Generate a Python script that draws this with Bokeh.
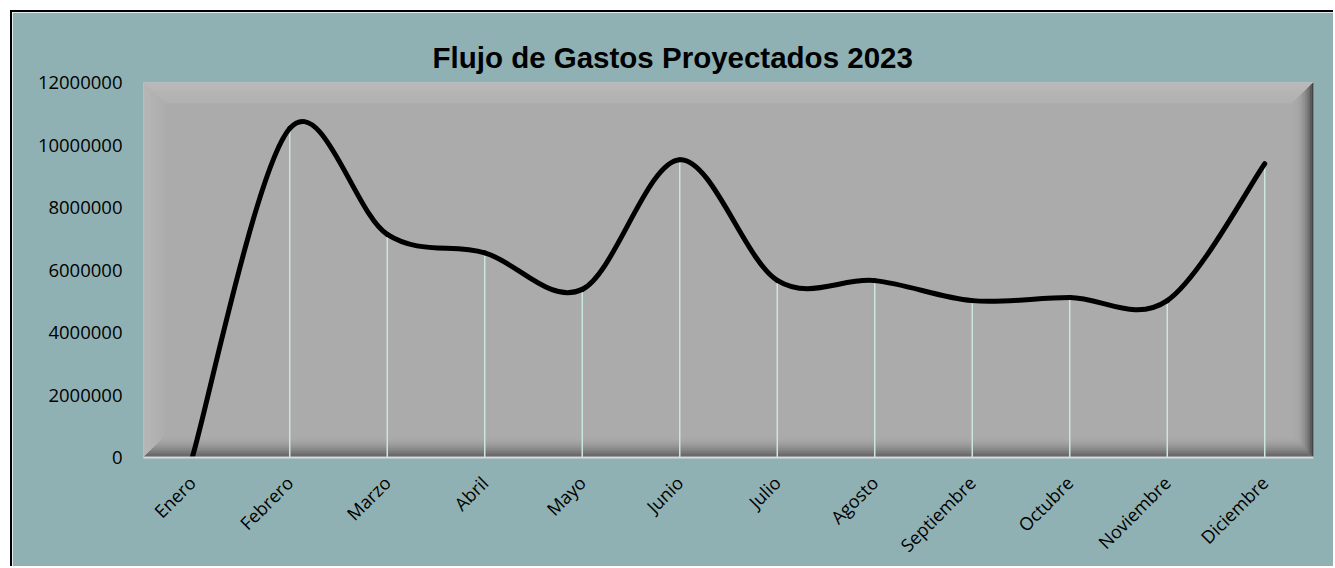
import numpy as np
from bokeh.plotting import figure
from bokeh.models import (Range1d, FixedTicker, BasicTickFormatter, ColumnDataSource)
from bokeh.embed import file_html
from bokeh.resources import INLINE

# ---- data ----
meses = ["Enero", "Febrero", "Marzo", "Abril", "Mayo", "Junio", "Julio",
         "Agosto", "Septiembre", "Octubre", "Noviembre", "Diciembre"]
gastos = [0, 10530000, 7140000, 6550000, 5380000, 9530000, 5670000,
          5660000, 5020000, 5120000, 5020000, 9400000]
y_ticks = [0, 2000000, 4000000, 6000000, 8000000, 10000000, 12000000]
titulo = "Flujo de Gastos Proyectados 2023"

# category positions (centre of each category slot)
pos = [i + 0.5 for i in range(len(meses))]

# ---- layout ----
W_FIG, H_FIG = 1323, 556
BL, BR, BT, BB = 131, 22, 70, 103
FW = W_FIG - BL - BR
FH = H_FIG - BT - BB
TEAL = "#8FB1B3"

p = figure(x_range=Range1d(0, len(meses)),
           y_range=Range1d(0, y_ticks[-1]),
           width=W_FIG, height=H_FIG, output_backend="svg",
           toolbar_location=None,
           min_border_left=BL, min_border_right=BR,
           min_border_top=BT, min_border_bottom=BB)
p.margin = (10, 0, 0, 10)
p.styles = {"border-left": "2px solid #000", "border-top": "2px solid #000",
            "border-right": "0px none", "border-bottom": "0px none",
            "outline": "none", "box-shadow": "none"}
p.border_fill_color = TEAL
p.background_fill_color = "#ABABAB"
p.outline_line_color = None
p.xgrid.grid_line_color = None
p.ygrid.grid_line_color = None

# title
p.title.text = titulo
p.title.text_font = "Liberation Sans"
p.title.text_font_style = "bold"
p.title.text_font_size = "29.5px"
p.title.text_color = "#000000"
p.title.align = "left"
p.title.offset = 289
p.title.standoff = 18

# ---- bevel of plot area (pixel-unit extra ranges) ----
p.extra_x_ranges = {"px": Range1d(0, FW)}
p.extra_y_ranges = {"py": Range1d(0, FH)}
BEV = 21
NB = 12

def band(side, d0, d1):
    W, H = FW, FH
    if side == "top":
        pts = [(d0, H - d0), (W - d0, H - d0), (W - d1, H - d1), (d1, H - d1)]
    elif side == "bottom":
        pts = [(d0, d0), (W - d0, d0), (W - d1, d1), (d1, d1)]
    elif side == "left":
        pts = [(d0, d0), (d0, H - d0), (d1, H - d1), (d1, d1)]
    else:
        pts = [(W - d0, d0), (W - d0, H - d0), (W - d1, H - d1), (W - d1, d1)]
    return [q[0] for q in pts], [q[1] for q in pts]

bevel_style = {
    "top": ((186, 186, 186), (178, 178, 178), 1.0),
    "left": ((184, 184, 184), (174, 174, 174), 1.0),
    "right": ((55, 55, 55), (170, 170, 170), 2.4),
    "bottom": ((88, 88, 88), (171, 171, 171), 1.6),
}
bx, by, bc = [], [], []
for side, (c0, c1, g) in bevel_style.items():
    for k in range(NB):
        d0 = BEV * k / NB
        d1 = BEV * (k + 1) / NB
        t = (k + 0.5) / NB
        w = (1 - t) ** g
        col = tuple(int(round(c1[j] + (c0[j] - c1[j]) * w)) for j in range(3))
        xs_, ys_ = band(side, d0, d1)
        bx.append(xs_)
        by.append(ys_)
        bc.append("#%02x%02x%02x" % col)
p.patches(xs=bx, ys=by, fill_color=bc, line_color=bc, line_width=0.6,
          x_range_name="px", y_range_name="py")

# ---- drop lines ----
src = ColumnDataSource(dict(x=pos, gasto=gastos, base=[0] * len(meses)))
p.segment(x0="x", y0="base", x1="x", y1="gasto", source=src,
          line_color="#C9E6E0", line_width=1.5)

# ---- smoothed line (Bezier segments through the points) ----
xs = np.array(pos, dtype=float)
ys = np.array(gastos, dtype=float)
xp = np.concatenate([[xs[0]], xs, [xs[-1]]])
yp = np.concatenate([[ys[0]], ys, [ys[-1]]])
seg = dict(x0=[], y0=[], x1=[], y1=[], cx0=[], cy0=[], cx1=[], cy1=[])
for i in range(len(gastos) - 1):
    pvx, pvy = xp[i], yp[i]
    cx, cy = xp[i + 1], yp[i + 1]
    nx, ny = xp[i + 2], yp[i + 2]
    n2x, n2y = xp[i + 3], yp[i + 3]
    seg["x0"].append(cx); seg["y0"].append(cy)
    seg["x1"].append(nx); seg["y1"].append(ny)
    seg["cx0"].append(cx + (nx - pvx) / 6); seg["cy0"].append(cy + (ny - pvy) / 6)
    seg["cx1"].append(nx - (n2x - cx) / 6); seg["cy1"].append(ny - (n2y - cy) / 6)
p.bezier(source=ColumnDataSource(seg), x0="x0", y0="y0", x1="x1", y1="y1",
         cx0="cx0", cy0="cy0", cx1="cx1", cy1="cy1",
         line_color="#000000", line_width=5, line_cap="round")

# ---- axes ----
xa = p.xaxis[0]
xa.ticker = FixedTicker(ticks=pos)
xa.major_label_overrides = {pp: m for pp, m in zip(pos, meses)}
xa.major_label_orientation = np.pi / 4
xa.major_tick_line_color = None
xa.minor_tick_line_color = None
xa.major_tick_out = 0
xa.axis_line_color = "#DADADA"
xa.axis_line_width = 2
xa.major_label_text_font = "Open Sans"
xa.major_label_text_font_size = "18px"
xa.major_label_text_color = "#000000"
xa.major_label_standoff = 22

ya = p.yaxis[0]
ya.ticker = FixedTicker(ticks=y_ticks)
ya.formatter = BasicTickFormatter(use_scientific=False)
ya.axis_line_color = None
ya.major_tick_line_color = None
ya.minor_tick_line_color = None
ya.major_tick_out = 0
ya.major_label_text_font = "Open Sans"
ya.major_label_text_font_size = "18.5px"
ya.major_label_text_color = "#000000"
ya.major_label_standoff = 21

open("out.html", "w").write(file_html(p, INLINE))
